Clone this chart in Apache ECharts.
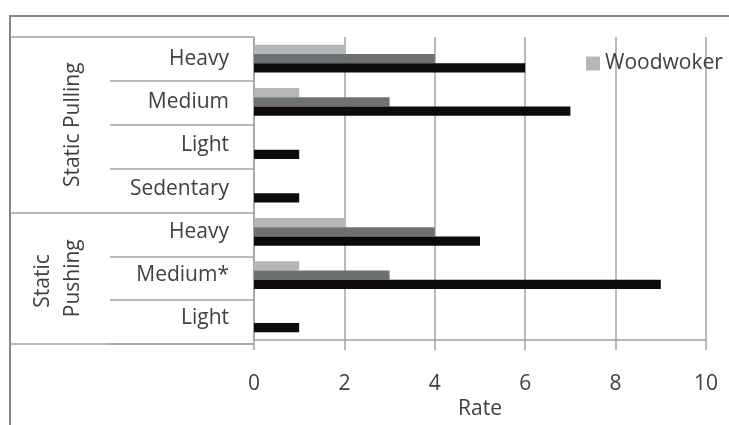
<!DOCTYPE html>
<html>
<head>
<meta charset="utf-8">
<script src="https://cdn.jsdelivr.net/npm/echarts@6/dist/echarts.min.js"></script>
<style>
html,body{margin:0;padding:0;background:#fff;}
#chart{width:729px;height:425px;}
</style>
</head>
<body>
<div id="chart"></div>
<script>
// ---- data ----
var categories = ['Heavy', 'Medium', 'Light', 'Sedentary', 'Heavy', 'Medium*', 'Light'];
var groups = ['Static Pulling', 'Static Pushing'];
var groupSizes = [4, 3];
var seriesNames = ['Woodwoker', 'Series 2', 'Series 3'];
var woodwoker = [2, 1, 0, 0, 2, 1, 0];
var series2 = [4, 3, 0, 0, 4, 3, 0];
var series3 = [6, 7, 1, 1, 5, 9, 1];
var xTicks = [0, 2, 4, 6, 8, 10];

// ---- derived ----
var groupStarts = [];
var acc = 0;
groupSizes.forEach(function (s) { groupStarts.push(acc); acc += s; });
var groupData = groups.map(function (g, i) {
  return [0, groupStarts[i], groupStarts[i] + groupSizes[i]];
});
function isGroupStart(i) { return groupStarts.indexOf(i) >= 0; }

var FONT = '"Open Sans", "Noto Sans", sans-serif';
var TXT = '#404040';
var LINE = '#a3a3a3';

var chart = echarts.init(document.getElementById('chart'), null, {renderer: 'canvas'});
var option = {
  animation: false,
  backgroundColor: '#fff',
  textStyle: {fontFamily: FONT},
  graphic: [{
    type: 'rect', z: -10, silent: true,
    shape: {x: 10, y: 16, width: 900, height: 600},
    style: {fill: 'none', stroke: '#858585', lineWidth: 2}
  }],
  legend: {
    data: [seriesNames[0]],
    left: 581, top: 48, orient: 'vertical',
    itemWidth: 14, itemHeight: 14, icon: 'rect',
    textStyle: {fontSize: 21, color: TXT, fontFamily: FONT}
  },
  grid: [
    {left: 254, right: 23, top: 37, bottom: 81},
    {left: 110, right: 475, top: 37, bottom: 81},
    {left: 10, right: 475, top: 37, bottom: 81}
  ],
  xAxis: [
    {
      gridIndex: 0, type: 'value', min: xTicks[0], max: xTicks[xTicks.length - 1], interval: 2,
      axisLine: {show: true, lineStyle: {color: LINE, width: 1.5}},
      axisTick: {show: true, length: 10, lineStyle: {color: LINE, width: 1.5}},
      splitLine: {show: true, lineStyle: {color: LINE, width: 1.5}},
      axisLabel: {fontSize: 21, color: TXT, margin: 33, fontFamily: FONT},
      name: 'Rate', nameLocation: 'middle', nameGap: 57,
      nameTextStyle: {fontSize: 21, color: TXT, fontFamily: FONT}
    },
    {gridIndex: 1, type: 'value', show: false},
    {gridIndex: 2, type: 'value', show: false, min: 0, max: 1}
  ],
  yAxis: [
    {
      gridIndex: 0, type: 'category', inverse: true, data: categories,
      axisLine: {show: true, lineStyle: {color: LINE, width: 1.5}},
      axisTick: {show: false},
      splitLine: {show: false},
      axisLabel: {fontSize: 21, color: TXT, margin: 25, fontFamily: FONT, interval: 0}
    },
    {
      gridIndex: 1, type: 'category', inverse: true, data: categories,
      axisLine: {show: false}, axisTick: {show: false}, axisLabel: {show: false},
      splitLine: {show: true, interval: function (i) { return !isGroupStart(i); },
        lineStyle: {color: LINE, width: 1.5}}
    },
    {
      gridIndex: 2, type: 'category', inverse: true, data: categories,
      axisLine: {show: false}, axisTick: {show: false}, axisLabel: {show: false},
      splitLine: {show: true, interval: function (i) { return isGroupStart(i); },
        lineStyle: {color: LINE, width: 1.5}}
    },
    {gridIndex: 2, type: 'value', inverse: true, min: 0, max: categories.length, show: false}
  ],
  series: [
    {name: seriesNames[0], type: 'bar', data: woodwoker, barGap: '0%', barCategoryGap: '36%',
      itemStyle: {color: '#b4b7b7'}},
    {name: seriesNames[1], type: 'bar', data: series2, barGap: '0%', barCategoryGap: '36%',
      itemStyle: {color: '#6e7173'}},
    {name: seriesNames[2], type: 'bar', data: series3, barGap: '0%', barCategoryGap: '36%',
      itemStyle: {color: '#0d0a09'}},
    {
      type: 'custom', xAxisIndex: 2, yAxisIndex: 3, data: groupData, silent: true,
      renderItem: function (params, api) {
        var p0 = api.coord([0, api.value(1)]);
        var p1 = api.coord([0, api.value(2)]);
        var cy = (p0[1] + p1[1]) / 2;
        var span = Math.abs(p1[1] - p0[1]);
        return {
          type: 'text', x: p0[0] + 78, y: cy, rotation: Math.PI / 2,
          style: {
            text: groups[params.dataIndex], width: span - 20, overflow: 'break',
            align: 'center', verticalAlign: 'bottom', lineHeight: 30,
            font: '21px ' + FONT, fill: TXT
          }
        };
      }
    }
  ]
};
chart.setOption(option);
</script>
</body>
</html>
